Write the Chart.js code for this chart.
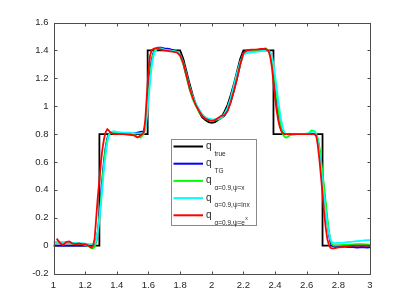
<!DOCTYPE html>
<html>
<head>
<meta charset="utf-8">
<script src="https://cdn.jsdelivr.net/npm/chart.js@4"></script>
<style>
  html, body { margin: 0; padding: 0; background: #fff; }
  #wrap { width: 409px; height: 307px; }
</style>
</head>
<body>
<div id="wrap"><canvas id="c" width="409" height="307"></canvas></div>
<script>
// x grid shared by the four reconstructions
const xs = [
  1.00,1.02,1.04,1.06,1.08,1.10,1.12,1.14,1.16,1.18,
  1.20,1.22,1.24,1.25,1.26,1.27,1.28,1.29,1.30,1.31,
  1.32,1.33,1.34,1.35,1.36,1.38,1.40,1.44,1.48,1.51,
  1.53,1.55,1.57,1.58,1.59,1.60,1.61,1.62,1.63,1.64,
  1.65,1.66,1.68,1.70,1.73,1.76,1.78,1.80,1.82,1.84,
  1.86,1.88,1.90,1.92,1.94,1.96,1.98,2.00,2.02,2.04,
  2.06,2.08,2.10,2.12,2.14,2.16,2.18,2.20,2.22,2.25,
  2.28,2.31,2.34,2.36,2.37,2.38,2.39,2.40,2.41,2.42,
  2.43,2.44,2.45,2.46,2.47,2.48,2.50,2.54,2.58,2.61,
  2.63,2.65,2.66,2.67,2.68,2.69,2.70,2.71,2.72,2.73,
  2.74,2.75,2.76,2.77,2.78,2.80,2.83,2.86,2.89,2.92,
  2.95,2.98,3.00
];

// true profile
const trueX = [1.0,1.29,1.29,1.595,1.595,1.8,1.82,1.84,1.86,1.88,1.90,1.92,1.94,1.96,1.98,2.0,
  2.02,2.04,2.06,2.08,2.10,2.12,2.14,2.16,2.18,2.2,2.39,2.39,2.70,2.70,3.0];
const trueY = [0,0,0.8,0.8,1.4,1.4,1.34,1.25,1.16,1.08,1.01,0.96,0.92,0.90,0.885,0.88,
  0.885,0.90,0.92,0.96,1.01,1.08,1.16,1.25,1.34,1.4,1.4,0.8,0.8,0,0];

const qTG = [
  0,0,0,0,0,0,0,0,0,0,
  0,0,0,0,0.005,0.03,0.1,0.22,0.36,0.5,
  0.62,0.71,0.77,0.8,0.81,0.81,0.805,0.80,0.80,0.805,
  0.81,0.815,0.82,0.86,0.98,1.12,1.25,1.33,1.38,1.405,
  1.415,1.42,1.42,1.415,1.41,1.40,1.39,1.37,1.31,1.22,
  1.13,1.06,1.01,0.97,0.935,0.915,0.905,0.9,0.9,0.905,
  0.915,0.93,0.97,1.03,1.11,1.2,1.3,1.38,1.395,1.4,
  1.4,1.4,1.405,1.395,1.37,1.32,1.24,1.14,1.04,0.95,
  0.88,0.83,0.81,0.80,0.80,0.80,0.80,0.80,0.80,0.80,
  0.80,0.80,0.79,0.76,0.69,0.6,0.5,0.39,0.28,0.17,
  0.08,0.02,0.0,-0.005,-0.01,-0.01,-0.005,-0.01,-0.01,-0.015,
  -0.01,-0.015,-0.012
];

const qX = [
  0.02,0.02,0.02,0.02,0.02,0.018,0.015,0.012,0.01,0.01,
  0.005,-0.005,-0.018,-0.02,-0.01,0.03,0.1,0.2,0.33,0.47,
  0.6,0.7,0.76,0.795,0.81,0.815,0.81,0.805,0.80,0.795,
  0.78,0.775,0.80,0.84,0.95,1.08,1.21,1.31,1.37,1.40,
  1.41,1.415,1.415,1.405,1.40,1.395,1.39,1.36,1.30,1.21,
  1.12,1.05,1.0,0.96,0.93,0.91,0.9,0.9,0.9,0.905,
  0.915,0.935,0.975,1.04,1.12,1.21,1.3,1.375,1.39,1.395,
  1.4,1.405,1.415,1.40,1.38,1.34,1.27,1.18,1.08,0.98,
  0.9,0.84,0.80,0.78,0.775,0.78,0.795,0.80,0.80,0.805,
  0.825,0.82,0.80,0.77,0.71,0.62,0.52,0.42,0.31,0.2,
  0.11,0.04,0.01,0.0,0.0,0.002,0.005,0.005,0.008,0.01,
  0.01,0.008,0.005
];

const qLnx = [
  0.028,0.027,0.026,0.025,0.024,0.022,0.02,0.02,0.018,0.018,
  0.015,0.012,0.01,0.01,0.015,0.04,0.1,0.19,0.3,0.43,
  0.56,0.66,0.74,0.79,0.81,0.82,0.815,0.81,0.81,0.805,
  0.805,0.805,0.81,0.83,0.92,1.04,1.17,1.28,1.35,1.39,
  1.405,1.41,1.41,1.405,1.40,1.395,1.39,1.37,1.315,1.23,
  1.14,1.07,1.02,0.975,0.94,0.92,0.91,0.905,0.905,0.91,
  0.92,0.945,0.99,1.06,1.15,1.24,1.32,1.37,1.38,1.385,
  1.39,1.395,1.40,1.395,1.385,1.36,1.30,1.22,1.13,1.04,
  0.96,0.89,0.84,0.81,0.80,0.80,0.80,0.80,0.80,0.805,
  0.815,0.82,0.80,0.75,0.67,0.57,0.46,0.35,0.25,0.16,
  0.09,0.045,0.025,0.02,0.018,0.02,0.022,0.025,0.028,0.032,
  0.035,0.04,0.04
];

const qEx = [
  null,0.05,0.02,0.003,0.025,0.03,0.015,0.01,0.015,0.01,
  0.01,0.0,-0.015,0.0,0.05,0.2,0.35,0.47,0.6,0.7,
  0.77,0.815,0.835,0.825,0.81,0.80,0.80,0.80,0.795,0.79,
  0.775,0.79,0.81,0.9,1.08,1.25,1.36,1.40,1.41,1.415,
  1.415,1.41,1.405,1.40,1.395,1.39,1.385,1.365,1.31,1.22,
  1.13,1.06,1.005,0.965,0.93,0.91,0.9,0.895,0.9,0.915,
  0.93,0.935,0.965,1.03,1.11,1.2,1.3,1.38,1.4,1.405,
  1.405,1.41,1.41,1.395,1.35,1.28,1.17,1.06,0.97,0.9,
  0.85,0.82,0.805,0.80,0.80,0.80,0.80,0.80,0.80,0.80,
  0.80,0.80,0.79,0.72,0.62,0.5,0.37,0.24,0.13,0.05,
  0.005,-0.015,-0.02,-0.02,-0.018,-0.012,-0.01,-0.005,0.0,0.0,
  0.0,0.0,0.0
];

const legendSubs = ['true', 'TG', 'α=0.9,ψ=x', 'α=0.9,ψ=lnx', 'α=0.9,ψ=e'];
const colors = ['#000000', '#0000ff', '#00ff00', '#00ffff', '#ff0000'];

const pts = (x, y) => x.map((v, i) => ({ x: v, y: y[i] }));

Chart.defaults.font.family = '"Liberation Sans", Arial, Helvetica, sans-serif';

// box with inward ticks on all four sides
const framePlugin = {
  id: 'frame',
  afterDraw(chart) {
    const { ctx, chartArea: a, scales } = chart;
    ctx.save();
    ctx.strokeStyle = '#4d4d4d';
    ctx.lineWidth = 1;
    const L = Math.round(a.left) + 0.5, R = Math.round(a.right) + 0.5;
    const T = Math.round(a.top) + 0.5, B = Math.round(a.bottom) + 0.5;
    ctx.strokeRect(L, T, R - L, B - T);
    ctx.beginPath();
    scales.x.ticks.forEach(t => {
      const p = Math.round(scales.x.getPixelForValue(t.value)) + 0.5;
      ctx.moveTo(p, B); ctx.lineTo(p, B - 3);
      ctx.moveTo(p, T); ctx.lineTo(p, T + 3);
    });
    scales.y.ticks.forEach(t => {
      const p = Math.round(scales.y.getPixelForValue(t.value)) + 0.5;
      ctx.moveTo(L, p); ctx.lineTo(L + 3, p);
      ctx.moveTo(R, p); ctx.lineTo(R - 3, p);
    });
    ctx.stroke();
    ctx.restore();
  }
};

// legend with subscripts
const legendPlugin = {
  id: 'subLegend',
  afterDraw(chart) {
    const { ctx, chartArea: a } = chart;
    const bx = Math.round(a.left + 117) + 0.5, by = Math.round(a.top + 116) + 0.5;
    const bw = 85, bh = 86;
    ctx.save();
    ctx.fillStyle = '#fff';
    ctx.fillRect(bx, by, bw, bh);
    ctx.strokeStyle = '#8a8a8a';
    ctx.lineWidth = 1;
    ctx.strokeRect(bx, by, bw, bh);
    const fam = '"Liberation Sans", Arial, sans-serif';
    legendSubs.forEach((s, i) => {
      const y = by + 7 + 17.2 * i;
      ctx.strokeStyle = colors[i];
      ctx.lineWidth = 2;
      ctx.beginPath();
      ctx.moveTo(bx + 2, y); ctx.lineTo(bx + 31.5, y);
      ctx.stroke();
      ctx.fillStyle = '#262626';
      ctx.textBaseline = 'alphabetic';
      ctx.font = '10px ' + fam;
      ctx.fillText('q', bx + 34.5, y + 2.5);
      ctx.font = '6.5px ' + fam;
      ctx.fillText(s, bx + 43, y + 9.3);
      if (i === 4) {
        const w = ctx.measureText(s).width;
        ctx.font = '5px ' + fam;
        ctx.fillText('x', bx + 43 + w + 0.3, y + 5);
      }
    });
    ctx.restore();
  }
};

const fmt = v => String(Math.round(v * 10) / 10);

new Chart(document.getElementById('c'), {
  type: 'line',
  data: {
    datasets: [
      { data: pts(trueX, trueY), borderColor: colors[0], order: 4 },
      { data: pts(xs, qTG), borderColor: colors[1], order: 3 },
      { data: pts(xs, qX), borderColor: colors[2], order: 2 },
      { data: pts(xs, qLnx), borderColor: colors[3], order: 1 },
      { data: pts(xs, qEx), borderColor: colors[4], order: 0 }
    ]
  },
  options: {
    responsive: false,
    animation: false,
    devicePixelRatio: 1,
    layout: { padding: { left: 0, right: 39, top: 22.5, bottom: 0 } },
    elements: {
      point: { radius: 0 },
      line: { borderWidth: 1.8, tension: 0, fill: false }
    },
    plugins: { legend: { display: false }, tooltip: { enabled: false } },
    scales: {
      x: {
        type: 'linear', min: 1, max: 3,
        afterFit: s => { s.height = 33.5; },
        grid: { display: false, drawTicks: false },
        border: { display: false },
        ticks: { stepSize: 0.2, padding: 6, color: '#262626', font: { size: 9.5 }, callback: fmt, maxRotation: 0, autoSkip: false }
      },
      y: {
        type: 'linear', min: -0.2, max: 1.6,
        afterFit: s => { s.width = 53.5; },
        grid: { display: false, drawTicks: false },
        border: { display: false },
        ticks: { stepSize: 0.2, padding: 5, color: '#262626', font: { size: 9.5 }, callback: fmt, autoSkip: false }
      }
    }
  },
  plugins: [framePlugin, legendPlugin]
});
</script>
</body>
</html>
